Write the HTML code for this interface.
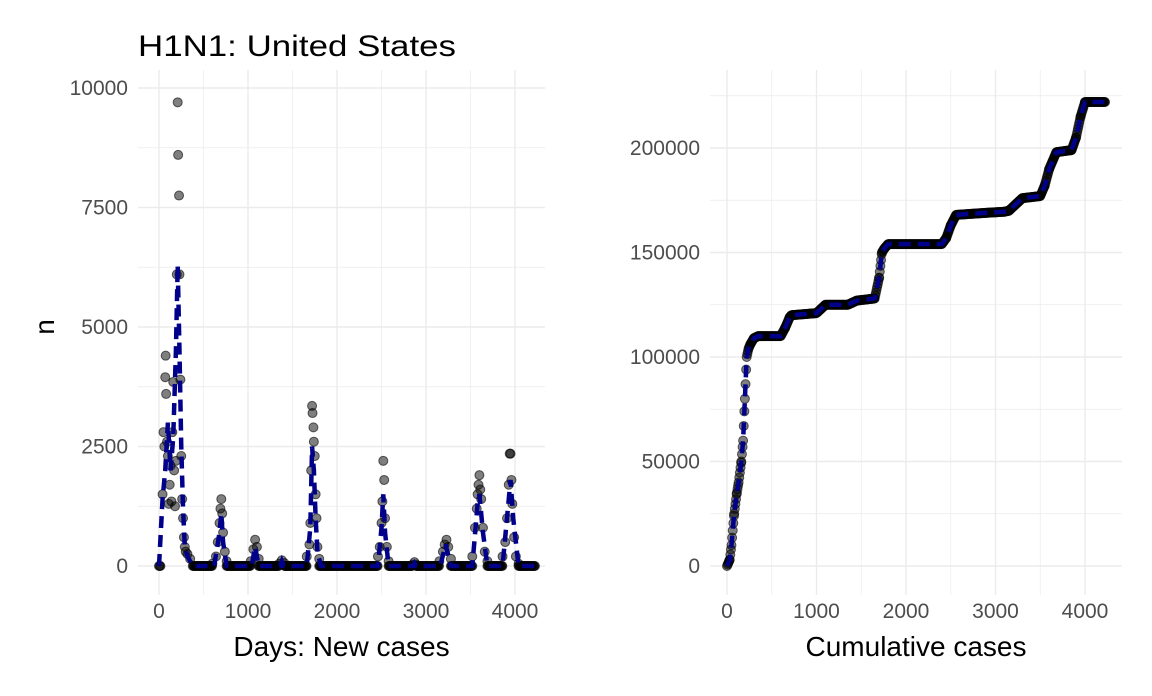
<!DOCTYPE html>
<html><head><meta charset="utf-8"><style>
body{margin:0;background:#fff;font-family:"Liberation Sans",sans-serif}
svg text{font-family:"Liberation Sans",sans-serif}
</style></head><body>
<svg id="s" width="1152" height="691" xmlns="http://www.w3.org/2000/svg">
<rect width="1152" height="691" fill="#fff"/>
<text x="138" y="56" font-size="30" fill="#000" textLength="318" lengthAdjust="spacingAndGlyphs">H1N1: United States</text>
<g id="L"></g>
<g id="R"></g>
</svg>
<script>
const newDays=[40,50,60,70,75,80,90,100,110,120,130,140,150,160,170,180,190,200,210,215,225,230,240,250,260,270,280,290,300,320,350,
600,640,660,680,690,700,710,720,740,760,1030,1060,1080,1100,1120,1350,1380,1410,
1660,1690,1700,1710,1720,1725,1735,1740,1750,1760,1770,1780,1800,
2460,2480,2500,2510,2520,2530,2540,2560,2580,2850,2870,2890,
3150,3190,3210,3230,3250,3280,3520,3550,3570,3580,3590,3600,3610,3620,3640,3660,3690,
3860,3890,3910,3930,3940,3950,3960,3970,3990,4010,4040];
const newVals=[1500,2800,2500,3950,4400,3600,2600,2300,1300,1700,2100,1350,2800,3850,2000,1250,2200,6100,9700,8600,7750,6100,3900,2300,1400,1000,600,400,300,250,150,
50,200,500,900,1200,1400,1100,700,300,100,100,350,550,400,150,50,120,60,
200,450,900,2000,3350,3200,2900,2600,2300,1500,1000,400,150,
200,400,900,1350,2200,1800,1000,400,100,30,80,30,
100,300,450,550,400,150,200,800,1200,1500,1700,1900,1600,1400,800,300,100,
200,500,1000,1700,2350,2350,1800,1300,600,200,50];
const zeroRanges=[[0,20],[380,600],[760,1030],[1120,1350],[1410,1660],[1800,2460],[2580,2850],[2890,3150],[3280,3520],[3690,3860],[4040,4230]];
const fitDays=[0,40,70,100,130,160,190,210,230,250,270,290,320,380,620,680,700,720,760,1040,1080,1120,1360,1380,1400,1660,1700,1720,1740,1760,1780,1820,2460,2500,2520,2540,2580,2850,2870,2890,3160,3220,3280,3520,3580,3600,3640,3690,3860,3920,3950,3980,4040,4230];
const fitVals=[0,1400,2000,3000,2000,2700,4500,6300,4500,2500,1200,400,200,0,0,700,1100,500,0,0,400,0,0,100,0,0,800,2500,2000,1000,300,0,0,800,1500,700,0,0,60,0,0,450,0,0,1300,1500,700,0,0,1200,1800,1000,0,0];
const cumDays=[0,30,50,80,110,130,160,180,200,220,240,260,300,350,600,650,700,720,1000,1050,1100,1350,1400,1450,1650,1700,1730,1760,1800,2400,2450,2500,2560,2900,3100,3150,3250,3300,3500,3550,3600,3680,3850,3900,3950,4000,4230];
const cumVals=[0,3000,10000,25000,35000,40000,50000,60000,80000,100000,104000,106000,109000,110000,110000,114000,119000,120000,121000,123000,125000,125000,126000,127000,128000,138000,150000,152000,154000,154000,157000,163000,168000,169000,169500,170000,174000,176000,177000,182000,190000,198000,199000,205000,215000,222000,222000];
const xTicks=[0,1000,2000,3000,4000];
const yTicksL=[0,2500,5000,7500,10000];
const yTicksR=[0,50000,100000,150000,200000];
const NS="http://www.w3.org/2000/svg";
function mk(p,t,a){const e=document.createElementNS(NS,t);for(const k in a)e.setAttribute(k,a[k]);p.appendChild(e);return e;}
function panel(g,x0,x1,xs,ys,yTicks,yStep,yMax,xlab){
  const X=d=>xs[0]+d*xs[1], Y=v=>566-v*ys;
  for(let d=-500;d<=4500;d+=500){const px=X(d);if(px<x0||px>x1)continue;
    const l=mk(g,'line',{x1:px,x2:px,y1:70,y2:595,stroke:'#ebebeb','stroke-width':d%1000===0?1.4:0.7});
    }
  for(let v=-yStep/2;v<=yMax;v+=yStep/2){const py=Y(v);if(py<70||py>595)continue;
    const l=mk(g,'line',{x1:x0,x2:x1,y1:py,y2:py,stroke:'#ebebeb','stroke-width':(Math.round(v/yStep*2)%2===0)?1.4:0.7});
    }
  xTicks.forEach(t=>{const e=mk(g,'text',{x:X(t),y:618,'font-size':21,fill:'#4d4d4d','text-anchor':'middle'});e.textContent=t;
    });
  yTicks.forEach(t=>{const e=mk(g,'text',{x:x0-10,y:Y(t)+7,'font-size':21,fill:'#4d4d4d','text-anchor':'end'});e.textContent=t;
    });
  const xt=mk(g,'text',{x:(x0+x1)/2,y:656,'font-size':28,fill:'#000','text-anchor':'middle'});xt.textContent=xlab;
  
  return {X,Y};
}
const L=document.getElementById('L'),R=document.getElementById('R');
const a=panel(L,138,545,[159,0.089],119.5/2500,yTicksL,2500,10400,'Days: New cases');
const yt=mk(L,'text',{x:54,y:327,'font-size':28,fill:'#000','text-anchor':'middle',transform:'rotate(-90 54 327)'});yt.textContent='n';

const b=panel(R,710,1122,[727,0.0895],104.5/50000,yTicksR,50000,235000,'Cumulative cases');
const pts=[];zeroRanges.forEach(r=>{for(let d=r[0];d<=r[1];d+=8)pts.push([d,0]);});
newDays.forEach((d,i)=>pts.push([d,newVals[i]]));
pts.forEach(p=>{const c=mk(L,'circle',{cx:a.X(p[0]),cy:a.Y(p[1]),r:4.5,fill:'rgba(0,0,0,0.5)',stroke:'rgba(0,0,0,0.6)','stroke-width':1});
  });
const pl=mk(L,'polyline',{points:fitDays.map((d,i)=>a.X(d)+','+a.Y(fitVals[i])).join(' '),fill:'none',stroke:'#00008b','stroke-width':4.5,'stroke-dasharray':'12 7'});

for(let i=0;i<cumDays.length-1;i++){const d0=cumDays[i],d1=cumDays[i+1];
  for(let d=d0;d<d1;d+=7){const v=cumVals[i]+(cumVals[i+1]-cumVals[i])*(d-d0)/(d1-d0);
    const c=mk(R,'circle',{cx:b.X(d),cy:b.Y(v),r:4.5,fill:'rgba(0,0,0,0.5)',stroke:'rgba(0,0,0,0.6)','stroke-width':1});
    }}
const pr=mk(R,'polyline',{points:cumDays.map((d,i)=>b.X(d)+','+b.Y(cumVals[i])).join(' '),fill:'none',stroke:'#00008b','stroke-width':4.5,'stroke-dasharray':'12 7'});

</script>
</body></html>
